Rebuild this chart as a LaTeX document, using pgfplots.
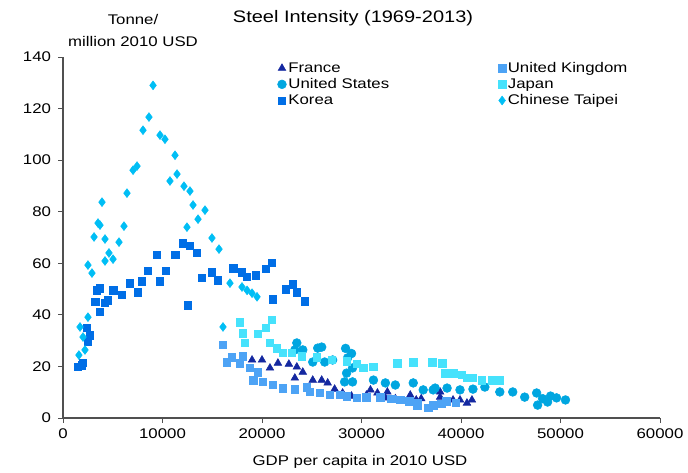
\documentclass[border=0pt]{standalone}
\usepackage{fontspec}
\setmainfont{Liberation Sans}[FakeStretch=1.2]
\usepackage{pgfplots}
\pgfplotsset{compat=1.18}
\definecolor{cfr}{RGB}{20,40,160}
\definecolor{cuk}{RGB}{77,163,245}
\definecolor{cus}{RGB}{0,166,224}
\definecolor{cjp}{RGB}{70,226,252}
\definecolor{ckr}{RGB}{0,110,230}
\definecolor{cct}{RGB}{0,190,245}
\definecolor{axgray}{RGB}{80,80,80}
\begin{document}
\begin{tikzpicture}
\begin{axis}[
  at={(0,0)}, anchor=south west,
  scale only axis, width=447.75pt, height=270.75pt,
  xmin=0, xmax=60000, ymin=0, ymax=140,
  xtick={0,10000,...,60000}, ytick={0,20,...,140},
  axis x line*=bottom, axis y line*=left,
  axis line style={axgray, line width=0.8pt},
  tick style={axgray, line width=0.6pt},
  tick align=outside, major tick length=3.5pt,
  scaled x ticks=false,
  /pgf/number format/assume math mode=true,
  /pgf/number format/1000 sep={},
  tick label style={font=\fontsize{10.5}{12}\selectfont},
  yticklabel style={xshift=-2pt},
  xticklabel style={yshift=-1pt},
  clip=false,
  legend columns=2,
  legend cell align=left,
  legend style={draw=none, fill=none, at={(0.359,0.992)}, anchor=north west,
    font=\fontsize{10.5}{12}\selectfont, row sep=0pt, inner sep=0pt,
    nodes={inner sep=1.5pt}},
  legend image code/.code={\draw[#1, mark repeat=2, mark phase=2] plot coordinates {(0pt,0pt)(3pt,0pt)(7.5pt,0pt)};},
]
\addplot[only marks, mark=triangle*, mark size=3.3pt, color=cfr] coordinates {
(19000,22.5)(20000,22.5)(20800,19.4)(21600,21.3)(22700,20.9)(23500,19.8)(23300,15.5)(24100,17.8)(25100,14.7)(26000,14.7)(26600,13.6)(27300,11.2)(28100,9.7)(29000,8.5)(30500,8.9)(30900,10.9)(31600,9.7)(32400,7.8)(32600,10.1)(33400,7.5)(34900,8.9)(35500,7.0)(36000,7.5)(37900,8.1)(37900,10.1)(38500,6.0)(39200,7.0)(39900,7.0)(40600,5.8)(41100,7.0)};
\addlegendentry{\makebox[156pt][l]{France}}
\addplot[only marks, mark=square*, mark size=2.8pt, color=cuk] coordinates {
(16080,28.3)(16480,21.7)(16980,23.6)(17790,21.3)(18090,24.0)(18790,19.4)(19100,14.7)(19600,17.8)(20100,14.0)(21100,12.8)(22100,11.6)(23300,11.2)(24500,12.0)(24800,10.1)(25800,9.7)(26800,9.0)(27800,9.0)(28500,8.5)(29500,7.8)(30500,8.0)(31900,8.1)(33000,7.5)(33900,7.0)(34800,6.5)(35600,5.8)(35600,5.0)(36700,3.9)(37200,5.0)(38000,5.5)(38500,6.5)(39500,6.0)};
\addlegendentry{United Kingdom}
\addplot[only marks, mark=*, mark size=3.3pt, color=cus] coordinates {
(23300,26.4)(23500,29.1)(24100,26.4)(25100,21.7)(25600,27.1)(26000,27.5)(26300,21.7)(27100,22.5)(28300,14.0)(28400,27.0)(28500,17.4)(28600,23.3)(29000,25.0)(29100,19.4)(29100,14.0)(31200,14.7)(32400,13.6)(33400,12.8)(35200,13.6)(36200,10.9)(37200,10.9)(37400,11.6)(38600,11.6)(39900,10.9)(41200,11.2)(42400,12.0)(43900,10.1)(45200,10.1)(46400,8.1)(47600,9.7)(47700,5.0)(48200,7.5)(48700,6.2)(49000,8.5)(49600,7.8)(50500,7.0)};
\addlegendentry{\makebox[156pt][l]{United States}}
\addplot[only marks, mark=square*, mark size=2.8pt, color=cjp] coordinates {
(17790,37.2)(18090,32.9)(18290,29.1)(19600,32.6)(20400,34.9)(20800,29.1)(21000,38.0)(21500,27.1)(22100,25.2)(23000,25.2)(24000,24.0)(25500,23.5)(27000,22.5)(28500,22.0)(29500,21.0)(30200,19.4)(31200,19.8)(33600,21.3)(35200,21.7)(37100,21.7)(38100,21.3)(38400,17.4)(39200,17.4)(40100,16.7)(40600,15.5)(41200,15.5)(42100,14.7)(43100,14.7)(43900,14.7)};
\addlegendentry{Japan}
\addplot[only marks, mark=square*, mark size=2.8pt, color=ckr] coordinates {
(1510,19.8)(1910,20.5)(2010,21.5)(2410,34.9)(2510,29.5)(2700,32.0)(3220,45.0)(3420,49.6)(3720,50.4)(3720,41.1)(4220,44.6)(4520,45.7)(5030,49.6)(5930,47.7)(6730,52.3)(7540,48.8)(7940,53.1)(8540,57.0)(9450,63.2)(9750,53.1)(10350,57.0)(11260,63.2)(12060,67.8)(12560,43.8)(12760,66.7)(13470,64.0)(13970,54.3)(14970,56.6)(15580,53.5)(17090,58.1)(17990,56.6)(18490,54.7)(19400,55.4)(20400,57.8)(21000,60.1)(21100,46.1)(22400,50.0)(23100,51.9)(23500,48.8)(24300,45.3)};
\addlegendentry{\makebox[156pt][l]{Korea}}
\addplot[only marks, mark=diamond*, mark size=3.3pt, color=cct] coordinates {
(1600,24.4)(1710,35.3)(2010,31.4)(2210,26.4)(2510,39.1)(2510,59.3)(2910,56.2)(3120,70.2)(3520,75.6)(3720,74.8)(3920,83.7)(4220,69.4)(4220,60.9)(4620,64.0)(5030,61.6)(5630,68.2)(6130,74.4)(6430,87.2)(7040,96.1)(7440,97.7)(8040,111.6)(8640,116.7)(9050,129.0)(9750,109.7)(10250,108.1)(10750,91.9)(11260,101.9)(11460,94.6)(12160,89.9)(12460,74.0)(12760,88.0)(13070,82.6)(13570,77.1)(14270,80.6)(14970,69.8)(15680,65.5)(16080,35.3)(16780,52.3)(17990,50.8)(18500,49.5)(19000,48.4)(19500,47.0)};
\addlegendentry{Chinese Taipei}
\end{axis}
\node[font=\fontsize{12.5}{14}\selectfont] at (217.5pt,300pt) {Steel Intensity (1969-2013)};
\node[font=\fontsize{10.5}{16.5}\selectfont, align=center] at (52.5pt,290.5pt) {Tonne/\\million 2010 USD};
\node[font=\fontsize{10.5}{12}\selectfont] at (222.75pt,-33pt) {GDP per capita in 2010 USD};
\pgfresetboundingbox
\path[use as bounding box] (-47.25pt,-41.25pt) rectangle (468.75pt,313.5pt);
\end{tikzpicture}
\end{document}
